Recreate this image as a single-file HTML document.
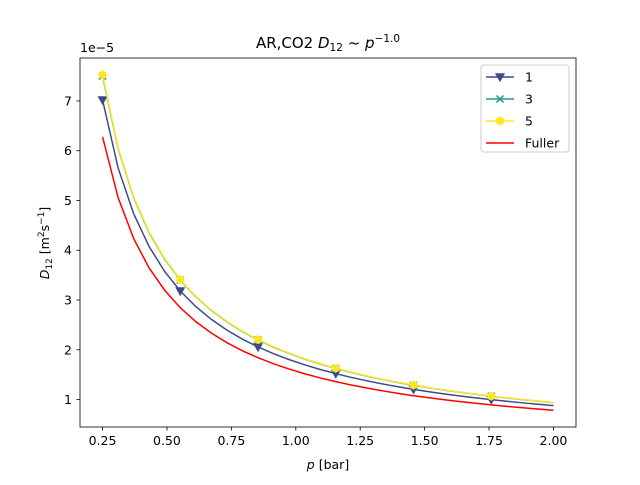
<!DOCTYPE html>
<html><head><meta charset="utf-8"><style>
body{margin:0;background:#fff}
svg{font-family:"DejaVu Sans","Liberation Sans",sans-serif}
</style></head><body>
<svg id="c" width="640" height="480"></svg>
<script>
const xs=[0.25,0.3103,0.3707,0.4310,0.4914,0.5517,0.6121,0.6724,0.7328,0.7931,0.8534,0.9138,0.9741,1.0345,1.0948,1.1552,1.2155,1.2759,1.3362,1.3966,1.4569,1.5172,1.5776,1.6379,1.6983,1.7586,1.8190,1.8793,1.9397,2.0];
const s1=[7.02,5.656,4.735,4.072,3.571,3.181,2.867,2.610,2.395,2.213,2.056,1.921,1.802,1.697,1.603,1.519,1.444,1.376,1.313,1.257,1.205,1.157,1.112,1.071,1.033,0.998,0.965,0.934,0.905,0.878];
const s3=[7.50,6.045,5.061,4.352,3.818,3.400,3.065,2.790,2.560,2.365,2.198,2.053,1.926,1.814,1.714,1.624,1.543,1.471,1.404,1.343,1.287,1.236,1.189,1.146,1.105,1.067,1.031,0.998,0.967,0.938];
const s5=[7.526,6.063,5.076,4.365,3.829,3.410,3.074,2.798,2.568,2.372,2.205,2.059,1.932,1.819,1.719,1.629,1.548,1.475,1.408,1.347,1.291,1.240,1.193,1.149,1.108,1.070,1.034,1.001,0.970,0.941];
const fuller=[6.28,5.059,4.235,3.642,3.194,2.845,2.565,2.335,2.142,1.979,1.840,1.718,1.612,1.518,1.434,1.359,1.292,1.231,1.175,1.124,1.077,1.035,0.995,0.959,0.925,0.893,0.863,0.835,0.809,0.785];
const xticks=[0.25,0.5,0.75,1.0,1.25,1.5,1.75,2.0];
const xtickLabels=["0.25","0.50","0.75","1.00","1.25","1.50","1.75","2.00"];
const yticks=[1,2,3,4,5,6,7];

const L=80,R=576,T=58,B=427;
const all=[...s1,...s3,...s5,...fuller];
const ymn=Math.min(...all),ymx=Math.max(...all),yr=ymx-ymn;
const y0=ymn-0.05*yr,y1=ymx+0.05*yr;
const xmn=Math.min(...xs),xmx=Math.max(...xs),xr=xmx-xmn;
const x0=xmn-0.05*xr,x1=xmx+0.05*xr;
const X=v=>L+(v-x0)/(x1-x0)*(R-L);
const Y=v=>B-(v-y0)/(y1-y0)*(B-T);
const svg=document.getElementById('c');
const NS='http://www.w3.org/2000/svg';
function mk(tag,attrs,parent){const e=document.createElementNS(NS,tag);for(const k in attrs)e.setAttribute(k,attrs[k]);(parent||svg).appendChild(e);return e;}

xticks.forEach((t,i)=>{
  const g=mk('g',{});
  
  
  mk('line',{x1:X(t),x2:X(t),y1:B,y2:B+3.5,stroke:'#000','stroke-width':0.8},g);
  const tx=mk('text',{x:X(t),y:B+18,'font-size':12.5,'text-anchor':'middle'},g);tx.textContent=xtickLabels[i];
});
yticks.forEach(t=>{
  const g=mk('g',{});
  
  
  mk('line',{x1:L-3.5,x2:L,y1:Y(t),y2:Y(t),stroke:'#000','stroke-width':0.8},g);
  const tx=mk('text',{x:L-8,y:Y(t)+4.5,'font-size':12.5,'text-anchor':'end'},g);tx.textContent=t;
});

function marker(g,type,x,y,c){
  if(type==='v'){mk('polygon',{points:`${x-4.2},${y-3.2} ${x+4.2},${y-3.2} ${x},${y+4.2}`,fill:c,stroke:c},g);}
  else if(type==='x'){mk('path',{d:`M${x-3.5},${y-3.5}L${x+3.5},${y+3.5}M${x-3.5},${y+3.5}L${x+3.5},${y-3.5}`,stroke:c,'stroke-width':1.5,fill:'none'},g);}
  else if(type==='h'){let p=[];for(let k=0;k<6;k++){const a=Math.PI/6+k*Math.PI/3;p.push((x+4*Math.cos(a))+','+(y+4*Math.sin(a)));}mk('polygon',{points:p.join(' '),fill:c,stroke:c},g);}
}
const series=[
 {name:'series-1',d:s1,c:'#3e4a89',m:'v',label:'1'},
 {name:'series-3',d:s3,c:'#1f9e89',m:'x',label:'3'},
 {name:'series-5',d:s5,c:'#fde725',m:'h',label:'5'},
 {name:'series-fuller',d:fuller,c:'#ff0000',m:null,label:'Fuller'}
];
series.forEach(s=>{
  const g=mk('g',{});
  
  
  mk('polyline',{points:xs.map((x,i)=>X(x)+','+Y(s.d[i])).join(' '),fill:'none',stroke:s.c,'stroke-width':1.5},g);
  if(s.m) xs.forEach((x,i)=>{if(i%5===0)marker(g,s.m,X(x),Y(s.d[i]),s.c);});
});
const fr=mk('rect',{x:L,y:T,width:R-L,height:B-T,fill:'none',stroke:'#000','stroke-width':0.8});



const lg=mk('g',{});


mk('rect',{x:481,y:65,width:88,height:87,rx:3,fill:'#fff','fill-opacity':0.8,stroke:'#ccc'},lg);
series.forEach((s,i)=>{
  const e=mk('g',{},lg);
  
  
  const yy=77+i*22;
  mk('line',{x1:486,x2:514,y1:yy,y2:yy,stroke:s.c,'stroke-width':1.5},e);
  if(s.m)marker(e,s.m,500,yy,s.c);
  const t=mk('text',{x:525,y:yy+4.5,'font-size':12.5},e);t.textContent=s.label;
});
</script>
<svg width="640" height="480" style="position:absolute;left:0;top:0">
<text x="328" y="48" font-size="15" text-anchor="middle" font-family="DejaVu Sans,sans-serif">AR,CO2  <tspan font-style="italic">D</tspan><tspan font-size="10.5" dy="3">12</tspan><tspan dy="-3"> ~ </tspan><tspan font-style="italic">p</tspan><tspan font-size="10.5" dy="-6">−1.0</tspan></text>
<text x="80" y="52" font-size="12.5" font-family="DejaVu Sans,sans-serif">1e−5</text>
<text x="328" y="469" font-size="12.5" text-anchor="middle" font-family="DejaVu Sans,sans-serif"><tspan font-style="italic">p</tspan> [bar]</text>
<text transform="translate(49,243) rotate(-90)" font-size="12.5" text-anchor="middle" font-family="DejaVu Sans,sans-serif"><tspan font-style="italic">D</tspan><tspan font-size="9" dy="3">12</tspan><tspan dy="-3"> [m</tspan><tspan font-size="9" dy="-5">2</tspan><tspan dy="5">s</tspan><tspan font-size="9" dy="-5">−1</tspan><tspan dy="5">]</tspan></text>
</svg>
</body></html>
